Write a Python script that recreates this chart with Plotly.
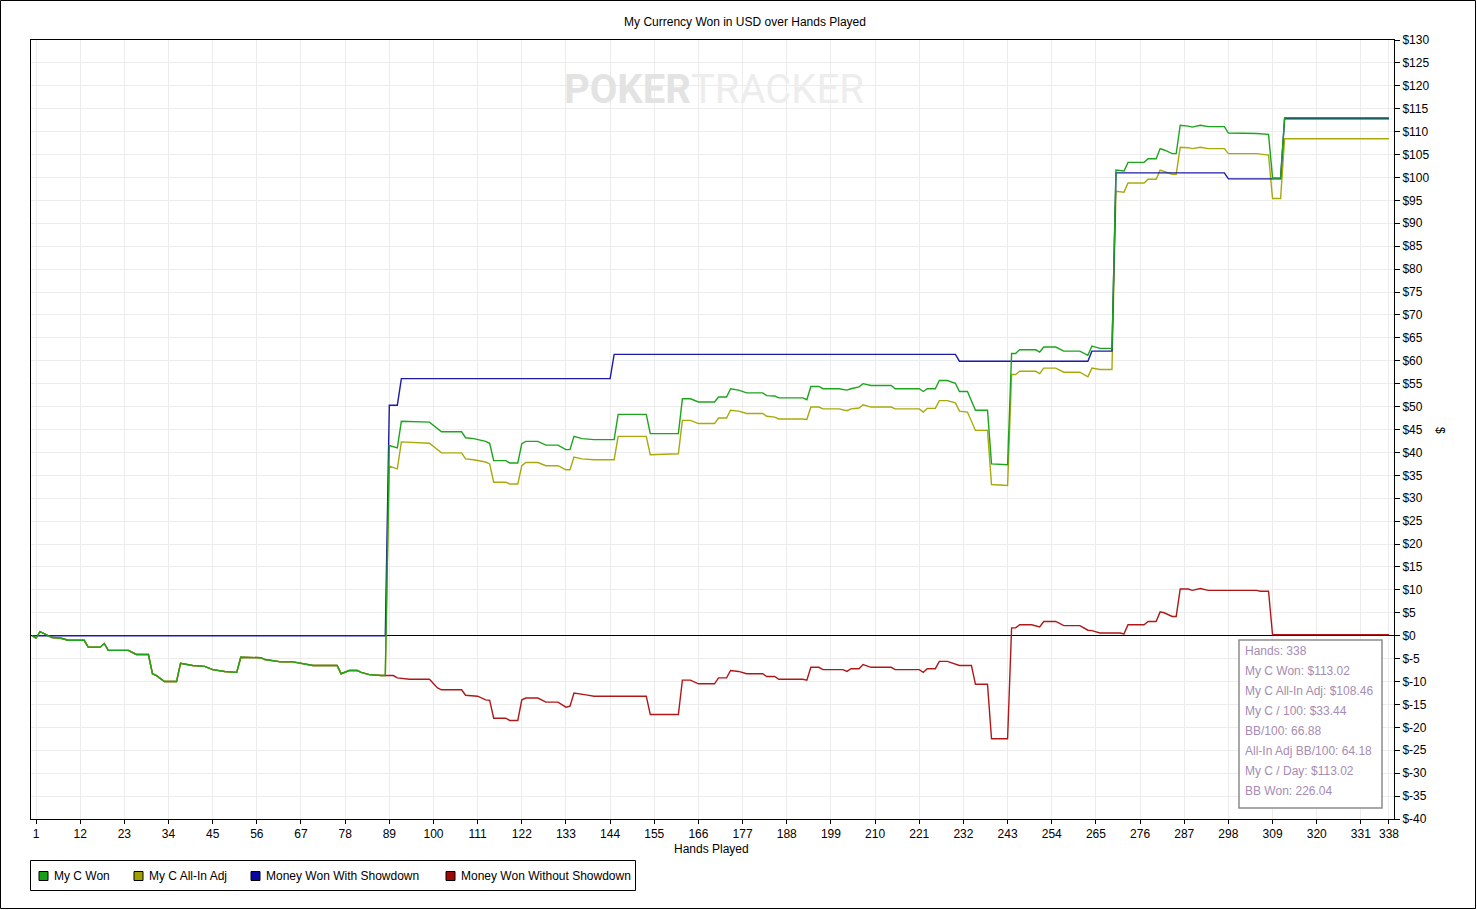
import plotly.graph_objects as go

# --- data (hand number, USD) ---
early_hands = [0, 1, 2, 4, 5, 7, 9, 13, 14, 17, 18, 19, 24, 26, 29, 30, 31, 33, 36, 37, 40, 43, 45,
               48, 51, 52, 57, 58, 62, 65, 67, 70, 76, 77, 79, 81, 82, 84, 87, 88]
early_won = [0, -0.5, 0.9, 0.1, -0.4, -0.5, -1.0, -1.0, -2.5, -2.5, -1.7, -3.2, -3.2, -4.1, -4.1, -8.3,
             -8.7, -10.0, -10.0, -6.0, -6.5, -6.7, -7.4, -7.8, -8.0, -4.7, -4.8, -5.2, -5.7, -5.7, -6.0,
             -6.5, -6.5, -8.3, -7.6, -7.6, -8.0, -8.5, -8.7, -8.7]

won_hands = [89, 91, 92, 99, 102, 107, 108, 110, 113, 114, 115, 118, 119, 121, 122, 123, 126, 128, 131,
             133, 134, 135, 137, 140, 145, 146, 153, 154, 161, 162, 164, 166, 170, 171, 173, 174, 176,
             178, 182, 183, 185, 186, 192, 193, 194, 196, 197, 201, 203, 204, 206, 207, 209, 214, 215,
             221, 222, 223, 225, 226, 228, 230, 231, 233, 235, 238, 239, 243, 244, 245, 246, 250, 251,
             252, 255, 257, 261, 263, 264, 266, 269, 270, 272, 273, 277, 278, 280, 281, 282, 284, 285,
             286, 288, 289, 291, 293, 297, 298, 305, 308, 309, 311, 312, 338]
won_values = [41.5, 41.0, 46.8, 46.6, 44.5, 44.5, 43.2, 43.0, 42.4, 42.0, 38.2, 38.2, 37.7, 37.7, 41.9,
              42.4, 42.4, 41.6, 41.6, 40.6, 40.6, 43.5, 43.0, 42.8, 42.8, 48.3, 48.3, 44.1, 44.1, 51.7,
              51.7, 51.0, 51.0, 52.1, 52.1, 53.9, 53.6, 53.0, 53.0, 52.4, 52.3, 51.9, 51.9, 51.5, 54.4,
              54.4, 53.9, 53.9, 53.6, 53.9, 54.3, 55.0, 54.6, 54.6, 53.9, 53.9, 53.3, 53.9, 53.9, 55.7,
              55.7, 55.1, 53.3, 53.3, 49.2, 49.2, 37.5, 37.3, 61.6, 61.6, 62.4, 62.4, 61.9, 63.0, 63.0,
              62.1, 62.1, 61.2, 63.2, 62.7, 62.7, 101.6, 101.4, 103.3, 103.3, 104.1, 104.1, 106.3, 106.0,
              105.2, 105.2, 111.4, 111.2, 111.0, 111.4, 111.1, 111.1, 109.7, 109.6, 109.4, 99.9, 99.9,
              113.02, 113.02]

adj_values = [37.0, 36.4, 42.3, 42.0, 39.9, 39.9, 38.6, 38.4, 37.9, 37.5, 33.5, 33.5, 33.1, 33.1, 37.1,
              37.8, 37.8, 37.1, 37.1, 36.2, 36.2, 39.0, 38.6, 38.4, 38.4, 43.5, 43.5, 39.5, 39.7, 47.0,
              47.0, 46.3, 46.3, 47.5, 47.5, 49.2, 49.0, 48.5, 48.5, 47.9, 47.7, 47.3, 47.3, 47.2, 49.9,
              49.9, 49.5, 49.5, 49.1, 49.5, 49.7, 50.4, 49.9, 49.9, 49.5, 49.5, 48.8, 49.6, 49.6, 51.3,
              51.3, 50.8, 49.0, 48.8, 44.8, 44.8, 33.0, 32.8, 57.0, 57.0, 57.7, 57.7, 57.2, 58.4, 58.4,
              57.5, 57.5, 56.5, 58.4, 58.1, 58.1, 97.0, 96.8, 98.8, 98.8, 99.6, 99.6, 101.6, 101.3,
              100.7, 100.7, 106.6, 106.5, 106.3, 106.6, 106.3, 106.3, 105.2, 105.2, 104.9, 95.4, 95.4,
              108.46, 108.46]

sd_hands = [0, 88, 89, 91, 92, 144, 145, 230, 231, 263, 264, 269, 270, 297, 298, 311, 312, 338]
sd_values = [0, 0, 50.3, 50.3, 56.1, 56.1, 61.4, 61.4, 59.9, 59.9, 62.1, 62.1, 101.0, 101.0, 99.7, 99.7,
             112.8, 112.8]

nsd_hands = [90, 91, 94, 99, 101, 102, 107, 108, 111, 113, 114, 115, 118, 119, 121, 122, 123, 126, 128,
             131, 133, 134, 135, 138, 140, 153, 154, 161, 162, 164, 166, 170, 171, 173, 174, 176, 178,
             182, 183, 185, 186, 192, 193, 194, 196, 197, 202, 203, 204, 206, 207, 209, 214, 215, 221,
             222, 223, 225, 226, 228, 230, 231, 234, 235, 238, 239, 243, 244, 245, 246, 249, 251, 252,
             255, 257, 261, 263, 264, 266, 271, 272, 273, 277, 278, 280, 281, 282, 284, 285, 286, 288,
             289, 291, 293, 305, 306, 308, 309, 338]
nsd_values = [-8.7, -9.2, -9.5, -9.5, -11.4, -11.8, -11.8, -13.0, -13.2, -14.0, -14.1, -18.0, -18.0,
              -18.5, -18.5, -14.0, -13.6, -13.6, -14.5, -14.5, -15.6, -15.4, -12.5, -12.9, -13.2, -13.2,
              -17.2, -17.2, -9.7, -9.7, -10.5, -10.5, -9.2, -9.2, -7.6, -7.8, -8.3, -8.3, -8.9, -8.9,
              -9.5, -9.5, -9.7, -6.9, -6.9, -7.4, -7.4, -7.8, -7.2, -7.2, -6.3, -6.9, -6.9, -7.4, -7.4,
              -8.0, -7.2, -7.2, -5.6, -5.6, -6.1, -6.5, -6.5, -10.6, -10.6, -22.5, -22.5, 1.7, 1.7, 2.4,
              2.4, 1.9, 3.1, 3.1, 2.2, 2.2, 1.2, 1.1, 0.6, 0.6, 0.4, 2.4, 2.4, 3.1, 3.1, 5.2, 5.0, 4.2,
              4.2, 10.2, 10.2, 9.9, 10.3, 9.9, 9.9, 9.7, 9.7, 0.2, 0.2]

names = ["My C Won", "My C All-In Adj", "Money Won With Showdown", "Money Won Without Showdown"]
line_colors = ["#1ca51c", "#a9a90c", "#1c1ca8", "#b01818"]
legend_colors = ["#18a018", "#a0a000", "#0808a0", "#a00808"]

x_ticks = [1, 12, 23, 34, 45, 56, 67, 78, 89, 100, 111, 122, 133, 144, 155, 166, 177, 188, 199, 210,
           221, 232, 243, 254, 265, 276, 287, 298, 309, 320, 331, 338]
y_ticks = list(range(-40, 131, 5))
y_labels = ["$%d" % v for v in y_ticks]

stats = ["Hands: 338", "My C Won: $113.02", "My C All-In Adj: $108.46", "My C / 100: $33.44",
         "BB/100: 66.88", "All-In Adj BB/100: 64.18", "My C / Day: $113.02", "BB Won: 226.04"]

# series
won_x = early_hands + won_hands
won_y = early_won + won_values
adj_x = early_hands + won_hands
adj_y = early_won + adj_values
nsd_x = early_hands + nsd_hands
nsd_y = early_won + nsd_values

FONT = "Liberation Sans, Arial, sans-serif"
W, H = 1477, 910
L, R, T, B = 31, 1394, 40, 819
pw, ph = R - L, B - T


def px(x):
    return (x - L) / pw


def py(y):
    return (B - y) / ph


fig = go.Figure()
series = [(nsd_x, nsd_y, 3), (adj_x, adj_y, 1), (sd_hands, sd_values, 2), (won_x, won_y, 0)]
for xs, ys, i in series:
    fig.add_trace(go.Scatter(x=xs, y=ys, mode="lines", name=names[i],
                             line=dict(color=line_colors[i], width=1.4),
                             showlegend=False, hoverinfo="skip"))

fig.update_layout(
    width=W, height=H,
    margin=dict(l=L, r=W - R, t=T, b=H - B),
    plot_bgcolor="white", paper_bgcolor="white",
    font=dict(family=FONT, size=12, color="black"),
    title=dict(text="My Currency Won in USD over Hands Played", x=745 / W, y=1 - 22 / H,
               xanchor="center", yanchor="middle", font=dict(size=12, color="black")),
    showlegend=False,
)

fig.update_xaxes(range=[-0.25, 339.25], tickvals=x_ticks, showgrid=True, gridcolor="#ececec",
                 gridwidth=1, showline=True, linecolor="black", linewidth=1, mirror=True,
                 ticks="outside", ticklen=4, tickcolor="black", zeroline=False,
                 tickfont=dict(size=12))
fig.update_yaxes(range=[-40, 130], side="right", tickvals=y_ticks, ticktext=y_labels, showgrid=True,
                 gridcolor="#ececec", gridwidth=1, showline=True, linecolor="black", linewidth=1,
                 mirror=True, ticks="outside", ticklen=5, tickcolor="black", zeroline=True,
                 zerolinecolor="black", zerolinewidth=1, tickfont=dict(size=12))

# axis titles
fig.add_annotation(text="Hands Played", x=px(711), y=py(849), xref="paper", yref="paper",
                   xanchor="center", yanchor="middle", showarrow=False, font=dict(size=12))
fig.add_annotation(text="$", x=px(1440), y=py(430), xref="paper", yref="paper", textangle=90,
                   xanchor="center", yanchor="middle", showarrow=False, font=dict(size=12))

# watermark
fig.add_annotation(text="<b><span style='color:#e3e3e3'>POKER</span></b>TRACKER",
                   x=px(714), y=py(90), xref="paper", yref="paper",
                   xanchor="center", yanchor="middle", showarrow=False,
                   font=dict(size=40, color="#ededed",
                             family="Liberation Sans Narrow, Roboto, sans-serif"))

# stats box
fig.add_shape(type="rect", xref="paper", yref="paper", x0=px(1239), x1=px(1382), y0=py(808),
              y1=py(640), line=dict(color="#8c8c8c", width=1.5), fillcolor="white", layer="above")
for k, s in enumerate(stats):
    fig.add_annotation(text=s, x=px(1243), y=py(651 + 20 * k), xref="paper", yref="paper",
                       xanchor="left", yanchor="middle", showarrow=False,
                       font=dict(size=12, color="#a68bb3"))

# legend drawn by hand: box, swatches, labels
fig.add_shape(type="rect", xref="paper", yref="paper", x0=px(30.5), x1=px(635.5), y0=py(890.5),
              y1=py(860.5), line=dict(color="black", width=1), fillcolor="white")
sw_left = [39, 134, 251, 446]
for i, n in enumerate(names):
    fig.add_shape(type="rect", xref="paper", yref="paper", x0=px(sw_left[i]), x1=px(sw_left[i] + 9),
                  y0=py(880.5), y1=py(871.5), line=dict(color="black", width=1),
                  fillcolor=legend_colors[i])
    fig.add_annotation(text=n, x=px(sw_left[i] + 13), y=py(876), xref="paper", yref="paper",
                       xanchor="left", yanchor="middle", showarrow=False, font=dict(size=12))

# outer frame
fig.add_shape(type="rect", xref="paper", yref="paper", x0=px(0.5), x1=px(W - 1.5), y0=py(H - 1.5),
              y1=py(0.5), line=dict(color="black", width=1), layer="above")

fig.write_html("out.html", config={"displayModeBar": False},
               post_script="document.body.style.margin='0';")
